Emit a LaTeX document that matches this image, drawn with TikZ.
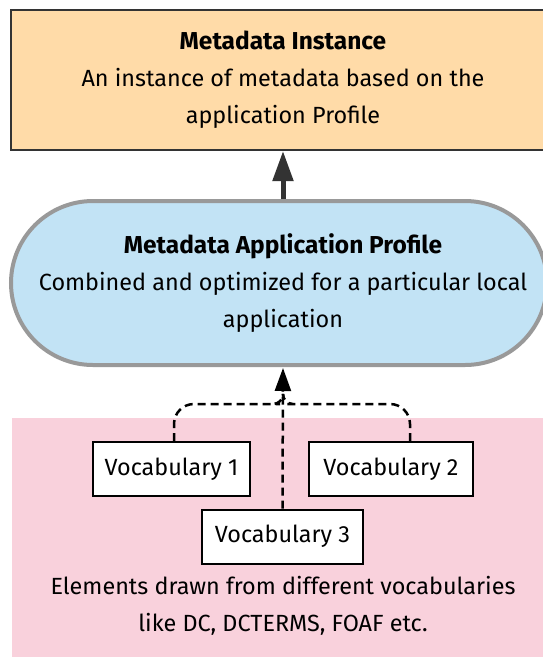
\documentclass[tikz,border=0pt]{standalone}
\usepackage{fontspec}
\setmainfont{Fira Sans}
\usetikzlibrary{arrows.meta,shapes.misc,positioning}
\definecolor{instfill}{HTML}{FFDBA8}
\definecolor{proffill}{HTML}{C2E3F5}
\definecolor{vocfill}{HTML}{F9D1DC}
\definecolor{darkline}{HTML}{333333}
\definecolor{greyline}{HTML}{999999}
\newcommand{\hd}[1]{{\fontsize{24.5}{37}\selectfont\bfseries #1}}
\tikzset{
  txt/.style={font=\fontsize{23.4}{37}\selectfont, align=center},
  vocbox/.style={draw=black, line width=2pt, fill=white, minimum width=157pt, minimum height=54pt, inner sep=0pt, font=\fontsize{23.4}{28}\selectfont},
  link/.style={dash pattern=on 8pt off 5pt, line width=2.5pt},
}
\begin{document}
\begin{tikzpicture}[x=1pt,y=-1pt]
  \useasboundingbox (0,0) rectangle (542,657);
  % vocabulary area
  \fill[vocfill] (12,418) rectangle (548,662);
  % metadata instance box
  \draw[darkline, line width=2.6pt, fill=instfill] (11,10) rectangle (548,150);
  \node[txt] (inst) at (283,80) {\hd{Metadata Instance}\\An instance of metadata based on the\\application Profile};
  % application profile
  \node[draw=greyline, line width=4pt, fill=proffill, rounded rectangle, minimum width=536pt, minimum height=164pt, inner sep=0pt] (prof) at (279,283) {};
  \node[txt] (proftxt) at (283,283) {\hd{Metadata Application Profile}\\Combined and optimized for a particular local\\application};
  % vocabularies
  \node[vocbox] (v1) at (171.5,469) {Vocabulary 1};
  \node[vocbox, minimum width=164pt] (v2) at (391,469) {Vocabulary 2};
  \node[vocbox, minimum width=161pt] (v3) at (282.5,536.5) {Vocabulary 3};
  \node[txt] (voctxt) at (283,606) {Elements drawn from different vocabularies\\like DC, DCTERMS, FOAF etc.};
  \coordinate (tip) at (283,368);
  \coordinate (join) at (283,396);
  \coordinate (ptop) at (283,199);
  \coordinate (ibot) at (283,151);
  % connectors
  \draw[darkline, line width=5pt, -{Triangle[length=30pt,width=20pt]}] (ptop) -- (ibot);
  \draw[link, rounded corners=20pt] (v1.north -| 174,0) |- (260,404) [rounded corners=10pt] -- (283,404) -- (join);
  \draw[link, rounded corners=20pt] (v2.north -| 410,0) |- (306,404) [rounded corners=10pt] -- (283,404) -- (join);
  \draw[link, -{Triangle[length=23pt,width=16pt]}] (v3.north) -- (tip);
\end{tikzpicture}
\end{document}
